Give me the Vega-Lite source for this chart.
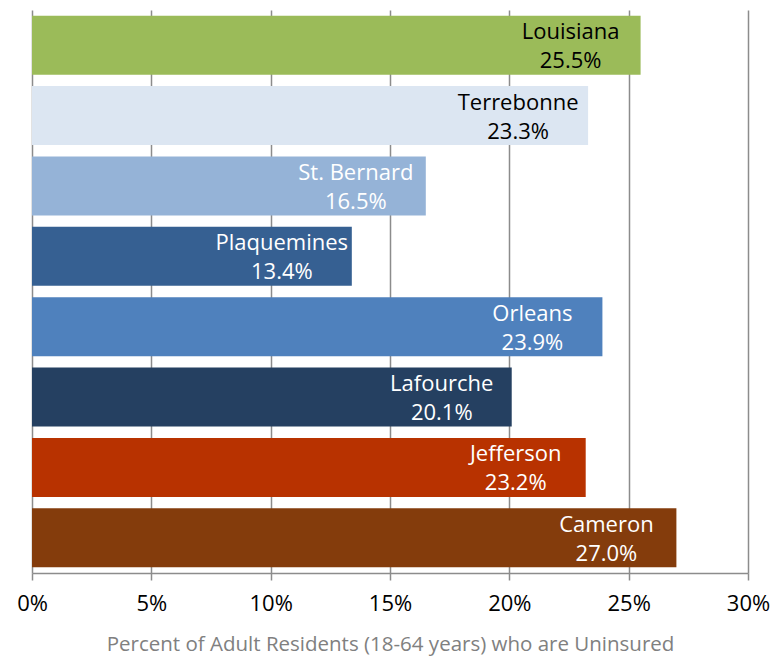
{
  "$schema": "https://vega.github.io/schema/vega-lite/v6.json",
  "width": 716,
  "height": 563,
  "autosize": {"type": "none"},
  "padding": {"left": 32, "top": 10, "right": 30, "bottom": 87},
  "background": "white",
  "config": {"view": {"stroke": null}, "font": "Open Sans"},
  "data": {"values": [
    {"parish": "Louisiana", "pct": 25.5},
    {"parish": "Terrebonne", "pct": 23.3},
    {"parish": "St. Bernard", "pct": 16.5},
    {"parish": "Plaquemines", "pct": 13.4},
    {"parish": "Orleans", "pct": 23.9},
    {"parish": "Lafourche", "pct": 20.1},
    {"parish": "Jefferson", "pct": 23.2},
    {"parish": "Cameron", "pct": 27.0}
  ]},
  "transform": [{"calculate": "format(datum.pct, '.1f') + '%'", "as": "label"}],
  "encoding": {
    "y": {"field": "parish", "type": "nominal", "sort": null, "axis": null,
          "scale": {"paddingInner": 0.16, "paddingOuter": 0.08}},
    "x": {"field": "pct", "type": "quantitative",
          "scale": {"domain": [0, 30], "nice": false},
          "axis": {"values": [0, 5, 10, 15, 20, 25, 30], "labelExpr": "datum.value + '%'",
                   "labelFlush": false, "labelOverlap": false,
                   "title": "Percent of Adult Residents (18-64 years) who are Uninsured",
                   "grid": true, "gridColor": "#8c8c8c", "gridWidth": 1.5,
                   "domainColor": "#8c8c8c", "domainWidth": 1.5,
                   "tickColor": "#8c8c8c", "tickWidth": 1.5, "tickSize": 7,
                   "labelFontSize": 22, "labelColor": "#000000", "labelPadding": 13,
                   "labelFont": "Open Sans",
                   "titleFontSize": 20.5, "titleColor": "#808080", "titleFontWeight": "normal",
                   "titlePadding": 20, "titleFont": "Open Sans"}}
  },
  "layer": [
    {"mark": {"type": "bar"},
     "encoding": {"color": {"field": "parish", "type": "nominal", "legend": null,
        "scale": {"domain": ["Louisiana", "Terrebonne", "St. Bernard", "Plaquemines", "Orleans", "Lafourche", "Jefferson", "Cameron"],
                  "range": ["#9BBB59", "#DCE6F2", "#95B3D7", "#366092", "#4F81BD", "#254061", "#B83200", "#843C0C"]}}}},
    {"mark": {"type": "text", "align": "center", "dx": -70, "dy": -13, "fontSize": 22, "baseline": "middle"},
     "encoding": {"text": {"field": "parish"},
        "color": {"condition": {"test": "datum.parish === 'Louisiana' || datum.parish === 'Terrebonne'", "value": "#000000"}, "value": "#ffffff"}}},
    {"mark": {"type": "text", "align": "center", "dx": -70, "dy": 16, "fontSize": 22, "baseline": "middle"},
     "encoding": {"text": {"field": "label"},
        "color": {"condition": {"test": "datum.parish === 'Louisiana' || datum.parish === 'Terrebonne'", "value": "#000000"}, "value": "#ffffff"}}}
  ]
}
